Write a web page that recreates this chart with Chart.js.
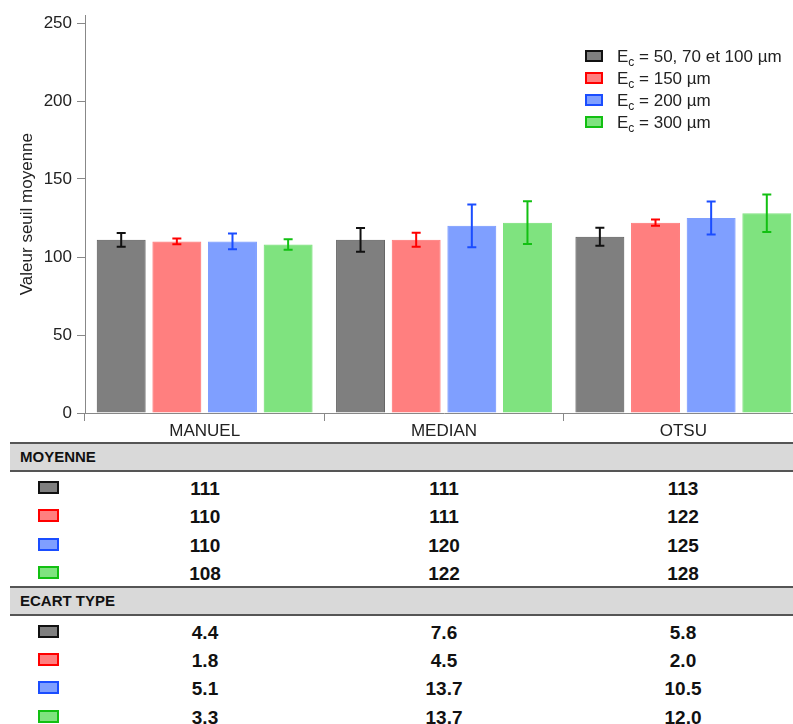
<!DOCTYPE html>
<html>
<head>
<meta charset="utf-8">
<script src="https://cdn.jsdelivr.net/npm/chart.js@4/dist/chart.umd.min.js"></script>
<style>
  body { margin: 0; width: 793px; height: 724px; overflow: hidden; background: #fff; font-family: "Liberation Sans", Arial, sans-serif; position: relative; }
  #chartBox { position: absolute; left: 0; top: 0; }
  .head { position: absolute; left: 10px; width: 800px; height: 30px; box-sizing: border-box; background: #d9d9d9; border-top: 2px solid #555; border-bottom: 2px solid #555; font-weight: bold; font-size: 15px; color: #111; line-height: 26px; padding-left: 10px; }
  .icon { position: absolute; left: 38px; width: 21px; height: 13px; box-sizing: border-box; border: 2px solid; }
  .val { position: absolute; width: 200px; text-align: center; font-weight: bold; font-size: 19px; color: #111; line-height: 22px; }
</style>
</head>
<body>
<div id="chartBox"><canvas id="seuilChart" width="803" height="440"></canvas></div>
<div id="tableau"></div>
<script>
const categories = ["MANUEL", "MEDIAN", "OTSU"];
const seriesNames = ["50, 70 et 100 µm", "150 µm", "200 µm", "300 µm"];
const yTicks = [0, 50, 100, 150, 200, 250];

// moyennes (barres)
const moyenneEc100 = [111, 111, 113];
const moyenneEc150 = [110, 111, 122];
const moyenneEc200 = [110, 120, 125];
const moyenneEc300 = [108, 122, 128];

// ecarts types (barres d'erreur)
const ecartEc100 = [4.4, 7.6, 5.8];
const ecartEc150 = [1.8, 4.5, 2.0];
const ecartEc200 = [5.1, 13.7, 10.5];
const ecartEc300 = [3.3, 13.7, 12.0];

const fills = ["rgba(0,0,0,0.5)", "rgba(255,0,0,0.5)", "rgba(0,64,255,0.5)", "rgba(0,200,0,0.5)"];
const edges = ["rgba(0,0,0,0.6)", "rgba(255,0,0,0.5)", "rgba(0,64,255,0.5)", "rgba(0,200,0,0.5)"];
const solid = ["#111111", "#ff0000", "#1a4dff", "#12c012"];

const moyennes = [moyenneEc100, moyenneEc150, moyenneEc200, moyenneEc300];
const ecarts = [ecartEc100, ecartEc150, ecartEc200, ecartEc300];

Chart.defaults.font.family = "'Liberation Sans', Arial, sans-serif";
Chart.defaults.color = "#222";

// barres d'erreur
const errorBars = {
  id: "errorBars",
  afterDatasetsDraw(chart) {
    const ctx = chart.ctx;
    const y = chart.scales.y;
    chart.data.datasets.forEach((ds, i) => {
      const meta = chart.getDatasetMeta(i);
      meta.data.forEach((bar, j) => {
        const m = ds.data[j];
        const sd = ecarts[i][j];
        const top = y.getPixelForValue(m + sd);
        const bot = y.getPixelForValue(m - sd);
        ctx.save();
        ctx.strokeStyle = solid[i];
        ctx.lineWidth = 2;
        ctx.beginPath();
        ctx.moveTo(bar.x, top); ctx.lineTo(bar.x, bot);
        ctx.moveTo(bar.x - 4.5, top); ctx.lineTo(bar.x + 4.5, top);
        ctx.moveTo(bar.x - 4.5, bot); ctx.lineTo(bar.x + 4.5, bot);
        ctx.stroke();
        ctx.restore();
      });
    });
  }
};

// legende avec indice
const legendeEc = {
  id: "legendeEc",
  afterDraw(chart) {
    const ctx = chart.ctx;
    ctx.save();
    seriesNames.forEach((name, i) => {
      const cy = 56 + i * 22;
      ctx.fillStyle = fills[i];
      ctx.fillRect(586, cy - 5, 16, 10);
      ctx.strokeStyle = solid[i];
      ctx.lineWidth = 2;
      ctx.strokeRect(586, cy - 5, 16, 10);
      ctx.fillStyle = "#222";
      ctx.textBaseline = "alphabetic";
      ctx.font = "17px 'Liberation Sans', Arial";
      ctx.fillText("E", 617, cy + 6);
      let x = 617 + ctx.measureText("E").width;
      ctx.font = "12px 'Liberation Sans', Arial";
      ctx.fillText("c", x, cy + 10);
      x += ctx.measureText("c").width;
      ctx.font = "17px 'Liberation Sans', Arial";
      ctx.fillText(" = " + name, x, cy + 6);
    });
    ctx.restore();
  }
};

new Chart(document.getElementById("seuilChart"), {
  type: "bar",
  data: {
    labels: categories,
    datasets: moyennes.map((vals, i) => ({
      label: "Ec = " + seriesNames[i],
      data: vals,
      backgroundColor: fills[i],
      borderColor: edges[i],
      borderWidth: 1,
      categoryPercentage: 0.93,
      barPercentage: 0.88
    }))
  },
  options: {
    responsive: false,
    animation: false,
    layout: { padding: { top: 14, left: 0, right: 0, bottom: 0 } },
    plugins: { legend: { display: false }, tooltip: { enabled: false } },
    scales: {
      x: {
        grid: { offset: true, drawOnChartArea: false, tickLength: 8, color: "#888" },
        border: { color: "#888" },
        ticks: { font: { size: 17 }, color: "#222", padding: 0 },
        afterFit(scale) { scale.height = 27; }
      },
      y: {
        min: 0,
        max: 255,
        afterBuildTicks(scale) { scale.ticks = yTicks.map(v => ({ value: v })); },
        grid: { drawOnChartArea: false, tickLength: 8, color: "#888" },
        border: { color: "#888" },
        ticks: { font: { size: 17 }, color: "#222", padding: 5 },
        title: { display: true, text: "Valeur seuil moyenne", font: { size: 17 }, color: "#222", padding: { top: 17, bottom: 0 } },
        afterFit(scale) { scale.width = 85; }
      }
    }
  },
  plugins: [errorBars, legendeEc]
});

// tableau sous le graphique
const tableau = document.getElementById("tableau");
const colCenters = [205, 444, 683];
const sections = [
  { titre: "MOYENNE", vals: moyennes, fmt: v => String(v) },
  { titre: "ECART TYPE", vals: ecarts, fmt: v => v.toFixed(1) }
];
sections.forEach((sec, s) => {
  const top = 442 + s * 143.5;
  const h = document.createElement("div");
  h.className = "head";
  h.style.top = top + "px";
  h.textContent = sec.titre;
  tableau.appendChild(h);
  sec.vals.forEach((row, i) => {
    const cy = top + 47 + i * 28.4;
    const ic = document.createElement("div");
    ic.className = "icon";
    ic.style.top = (cy - 8) + "px";
    ic.style.background = fills[i];
    ic.style.borderColor = solid[i];
    tableau.appendChild(ic);
    row.forEach((v, j) => {
      const d = document.createElement("div");
      d.className = "val";
      d.style.left = (colCenters[j] - 100) + "px";
      d.style.top = (cy - 11) + "px";
      d.textContent = sec.fmt(v);
      tableau.appendChild(d);
    });
  });
});
</script>
</body>
</html>
